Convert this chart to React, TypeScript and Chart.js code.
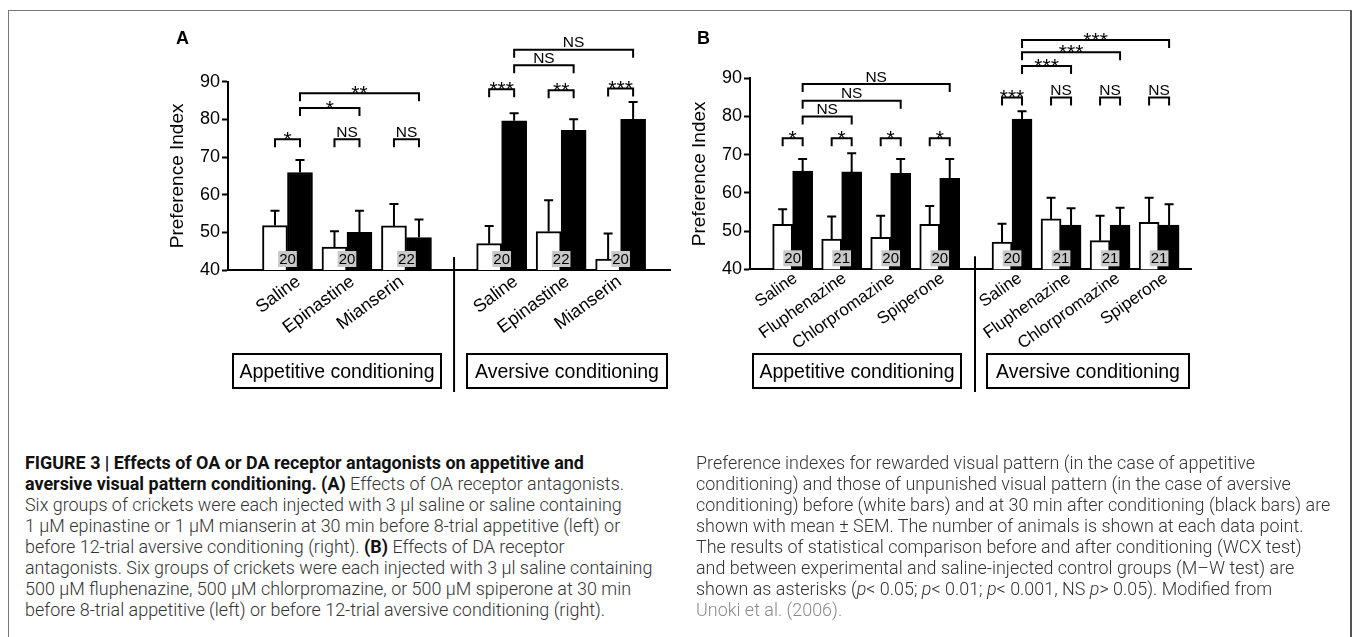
import React, { useEffect, useLayoutEffect, useRef } from 'react';
import { Chart, registerables } from 'chart.js';

Chart.register(...registerables);

const SANS = '"Liberation Sans", Arial, Helvetica, sans-serif';
const CAPTION_FONT = 'Roboto, "Liberation Sans", sans-serif';

// ---------- Panel A : OA receptor antagonists ----------
const aAppetitive = ['Saline', 'Epinastine', 'Mianserin'];
const aAversive = ['Saline', 'Epinastine', 'Mianserin'];
const aBefore = [51.8, 46.1, 51.7, 47.0, 50.2, 42.9];
const aBeforeSem = [3.9, 4.2, 5.8, 4.7, 8.3, 6.8];
const aAfter = [65.9, 50.0, 48.6, 79.6, 77.1, 80.0];
const aAfterSem = [3.3, 5.7, 4.8, 2.0, 2.9, 4.6];
const aAnimals = ['20', '20', '22', '20', '22', '20'];
// [group, series (0 before / 1 after), group, series, level, label]
const aBrackets = [
  [0, 0, 0, 1, 74.7, '*'],
  [1, 0, 1, 1, 74.7, 'NS'],
  [2, 0, 2, 1, 74.7, 'NS'],
  [0, 1, 1, 1, 83.0, '*'],
  [0, 1, 2, 1, 86.9, '**'],
  [3, 0, 3, 1, 88.0, '***'],
  [4, 0, 4, 1, 87.7, '**'],
  [5, 0, 5, 1, 88.2, '***'],
  [3, 1, 4, 1, 94.4, 'NS'],
  [3, 1, 5, 1, 98.5, 'NS'],
];

// ---------- Panel B : DA receptor antagonists ----------
const bAppetitive = ['Saline', 'Fluphenazine', 'Chlorpromazine', 'Spiperone'];
const bAversive = ['Saline', 'Fluphenazine', 'Chlorpromazine', 'Spiperone'];
const bBefore = [51.8, 47.9, 48.4, 51.8, 47.1, 53.2, 47.5, 52.3];
const bBeforeSem = [3.9, 5.9, 5.6, 4.8, 4.8, 5.5, 6.5, 6.4];
const bAfter = [65.7, 65.5, 65.1, 63.8, 79.3, 51.6, 51.6, 51.6];
const bAfterSem = [3.2, 4.9, 3.8, 5.1, 2.1, 4.4, 4.5, 5.4];
const bAnimals = ['20', '21', '20', '20', '20', '21', '21', '21'];
const bBrackets = [
  [0, 0, 0, 1, 74.3, '*'],
  [1, 0, 1, 1, 74.3, '*'],
  [2, 0, 2, 1, 74.3, '*'],
  [3, 0, 3, 1, 74.3, '*'],
  [0, 1, 1, 1, 80.0, 'NS'],
  [0, 1, 2, 1, 84.1, 'NS'],
  [0, 1, 3, 1, 88.5, 'NS'],
  [4, 0, 4, 1, 85.0, '***'],
  [5, 0, 5, 1, 85.0, 'NS'],
  [6, 0, 6, 1, 85.0, 'NS'],
  [7, 0, 7, 1, 85.0, 'NS'],
  [4, 1, 5, 1, 93.2, '***'],
  [4, 1, 6, 1, 96.8, '***'],
  [4, 1, 7, 1, 100.0, '***'],
];

const yTicks = [40, 50, 60, 70, 80, 90];

const panelA = {
  appLabels: aAppetitive, avLabels: aAversive,
  before: aBefore, beforeSem: aBeforeSem, after: aAfter, afterSem: aAfterSem,
  animals: aAnimals, brackets: aBrackets,
  left: 140, top: 20, width: 560, height: 380,
  yAxisWidth: 88, xAxisHeight: 130, padTop: 61.7, padRight: 30,
  xMin: -1.0, xMax: 6.43, gap: 0.6, sep: 2.8, sepBottom: 372,
  barThickness: 25, titlePad: 26,
  labelNudge: [11, 5.6, -4.7, 14.3, 6.3, -1], labelFont: 18, labelRotation: 36.5, labelPadding: 1,
};

const panelB = {
  appLabels: bAppetitive, avLabels: bAversive,
  before: bBefore, beforeSem: bBeforeSem, after: bAfter, afterSem: bAfterSem,
  animals: bAnimals, brackets: bBrackets,
  left: 660, top: 20, width: 560, height: 380,
  yAxisWidth: 90, xAxisHeight: 130.7, padTop: 58.3, padRight: 28.3,
  xMin: -0.87, xMax: 8.14, gap: 0.475, sep: 3.72, sepBottom: 372,
  barThickness: 20, titlePad: 28.6,
  labelNudge: [3, 3, 2, 3, 8, 8, 8, 7], labelFont: 17, labelRotation: 35, labelPadding: -1,
};

function annotations(p: any) {
  return {
    id: 'annotations',
    afterDatasetsDraw(chart: any) {
      const { ctx, chartArea } = chart;
      const ys = chart.scales.y;
      const xs = chart.scales.x;
      const metas = [chart.getDatasetMeta(0).data, chart.getDatasetMeta(1).data];
      ctx.save();
      ctx.strokeStyle = '#000';
      ctx.fillStyle = '#000';
      ctx.lineWidth = 2;
      // error bars (upper SEM)
      const series = [[p.before, p.beforeSem], [p.after, p.afterSem]];
      series.forEach(([means, sems]: any, d: number) => {
        means.forEach((v: number, i: number) => {
          const bar = metas[d][i];
          const top = ys.getPixelForValue(v + sems[i]);
          ctx.beginPath();
          ctx.moveTo(bar.x, bar.y);
          ctx.lineTo(bar.x, top);
          ctx.moveTo(bar.x - 4.5, top);
          ctx.lineTo(bar.x + 4.5, top);
          ctx.stroke();
        });
      });
      // separator between appetitive and aversive
      const sx = xs.getPixelForValue(p.sep);
      ctx.beginPath();
      ctx.moveTo(sx, chartArea.bottom - 13);
      ctx.lineTo(sx, p.sepBottom);
      ctx.stroke();
      // number of animals
      ctx.font = `15px ${SANS}`;
      ctx.textAlign = 'center';
      ctx.textBaseline = 'middle';
      p.animals.forEach((t: string, i: number) => {
        const cx = (metas[0][i].x + metas[1][i].x) / 2;
        const cy = chartArea.bottom - 11;
        const w = ctx.measureText(t).width + 2;
        ctx.fillStyle = '#c8c8c8';
        ctx.fillRect(cx - w / 2, cy - 8, w, 16);
        ctx.fillStyle = '#000';
        ctx.fillText(t, cx, cy + 1);
      });
      // significance brackets
      p.brackets.forEach(([g1, s1, g2, s2, level, label]: any) => {
        const x1 = metas[s1][g1].x;
        const x2 = metas[s2][g2].x;
        const y = ys.getPixelForValue(level);
        ctx.beginPath();
        ctx.moveTo(x1, y + 8);
        ctx.lineTo(x1, y);
        ctx.lineTo(x2, y);
        ctx.lineTo(x2, y + 8);
        ctx.stroke();
        const cx = (x1 + x2) / 2;
        ctx.textBaseline = 'alphabetic';
        if (label.charAt(0) === '*') {
          ctx.font = `21px ${SANS}`;
          ctx.fillText(label, cx, y + 7);
        } else {
          ctx.font = `15.5px ${SANS}`;
          ctx.fillText(label, cx, y - 2.5);
        }
      });
      ctx.restore();
    },
  };
}

function makeConfig(p: any) {
  const nApp = p.appLabels.length;
  const pos = p.before.map((_: number, i: number) => i + (i >= nApp ? p.gap : 0));
  const labels = [...p.appLabels, ...p.avLabels];
  const pxPerUnit = (p.width - p.yAxisWidth - p.padRight) / (p.xMax - p.xMin);
  const tickPos = pos.map((v: number, i: number) => v + p.labelNudge[i] / pxPerUnit);
  return {
    type: 'bar',
    data: {
      datasets: [
        {
          label: 'before',
          data: p.before.map((v: number, i: number) => ({ x: pos[i], y: v })),
          backgroundColor: '#ffffff',
          borderColor: '#000000',
          borderWidth: 2,
          borderSkipped: 'start',
          barThickness: p.barThickness,
        },
        {
          label: 'after',
          data: p.after.map((v: number, i: number) => ({ x: pos[i], y: v })),
          backgroundColor: '#000000',
          borderColor: '#000000',
          borderWidth: 2,
          borderSkipped: 'start',
          barThickness: p.barThickness,
        },
      ],
    },
    options: {
      responsive: false,
      animation: false,
      events: [],
      layout: { padding: { top: p.padTop, right: p.padRight, left: 0, bottom: 0 } },
      plugins: { legend: { display: false }, tooltip: { enabled: false } },
      scales: {
        x: {
          type: 'linear',
          min: p.xMin,
          max: p.xMax,
          offset: false,
          grid: { display: false, drawTicks: false },
          border: { display: true, color: '#000', width: 2 },
          afterBuildTicks: (s: any) => { s.ticks = tickPos.map((v: number) => ({ value: v })); },
          afterFit: (s: any) => { s.height = p.xAxisHeight; },
          ticks: {
            autoSkip: false,
            minRotation: p.labelRotation,
            maxRotation: p.labelRotation,
            padding: p.labelPadding,
            color: '#000',
            font: { family: SANS, size: p.labelFont },
            callback: (_v: any, i: number) => labels[i],
          },
        },
        y: {
          type: 'linear',
          min: 40,
          max: 90,
          afterBuildTicks: (s: any) => { s.ticks = yTicks.map((v) => ({ value: v })); },
          afterFit: (s: any) => { s.width = p.yAxisWidth; },
          grid: { display: true, drawOnChartArea: false, drawTicks: true, tickLength: 6, tickWidth: 2, tickColor: '#000' },
          border: { display: true, color: '#000', width: 2 },
          ticks: { color: '#000', padding: 2, font: { family: SANS, size: 18 } },
          title: {
            display: true,
            text: 'Preference Index',
            color: '#000',
            font: { family: SANS, size: 19 },
            padding: { top: p.titlePad, bottom: 0 },
          },
        },
      },
    },
    plugins: [annotations(p)],
  };
}

function Panel({ p }: any) {
  const ref = useRef<HTMLCanvasElement>(null);
  useEffect(() => {
    const chart = new Chart(ref.current as HTMLCanvasElement, makeConfig(p) as any);
    return () => chart.destroy();
  }, []);
  return (
    <canvas
      ref={ref}
      width={p.width}
      height={p.height}
      style={{ position: 'absolute', left: p.left, top: p.top, width: p.width, height: p.height }}
    />
  );
}

const boxStyle = (left: number, width: number): React.CSSProperties => ({
  position: 'absolute', left, top: 353, width, height: 36, boxSizing: 'border-box',
  border: '2px solid #000', display: 'flex', alignItems: 'center', justifyContent: 'center',
  font: `19.5px ${SANS}`, color: '#000', whiteSpace: 'nowrap',
});

// caption segments: [text, kind]  kind: n normal, b bold, i italic, g grey link
const leftCaption: any[] = [
  [['FIGURE 3 | Effects of OA or DA receptor antagonists on appetitive and', 'b']],
  [['aversive visual pattern conditioning. (A)', 'b'], [' Effects of OA receptor antagonists.', 'n']],
  [['Six groups of crickets were each injected with 3 µl saline or saline containing', 'n']],
  [['1 µM epinastine or 1 µM mianserin at 30 min before 8-trial appetitive (left) or', 'n']],
  [['before 12-trial aversive conditioning (right). ', 'n'], ['(B)', 'b'], [' Effects of DA receptor', 'n']],
  [['antagonists. Six groups of crickets were each injected with 3 µl saline containing', 'n']],
  [['500 µM fluphenazine, 500 µM chlorpromazine, or 500 µM spiperone at 30 min', 'n']],
  [['before 8-trial appetitive (left) or before 12-trial aversive conditioning (right).', 'n']],
];
const rightCaption: any[] = [
  [['Preference indexes for rewarded visual pattern (in the case of appetitive', 'n']],
  [['conditioning) and those of unpunished visual pattern (in the case of aversive', 'n']],
  [['conditioning) before (white bars) and at 30 min after conditioning (black bars) are', 'n']],
  [['shown with mean ± SEM. The number of animals is shown at each data point.', 'n']],
  [['The results of statistical comparison before and after conditioning (WCX test)', 'n']],
  [['and between experimental and saline-injected control groups (M–W test) are', 'n']],
  [['shown as asterisks (', 'n'], ['p', 'i'], ['< 0.05; ', 'n'], ['p', 'i'], ['< 0.01; ', 'n'], ['p', 'i'], ['< 0.001, NS ', 'n'], ['p', 'i'], ['> 0.05). Modified from', 'n']],
  [['Unoki et al. (2006).', 'g']],
];

function segStyle(kind: string): React.CSSProperties {
  if (kind === 'b') return { fontWeight: 700, color: '#111' };
  if (kind === 'i') return { fontStyle: 'italic' };
  if (kind === 'g') return { color: '#8a8a8a' };
  return {};
}

const CAPTION_TOP = 453;
const CAPTION_LINE = 21;

function CaptionColumn({ lines, left, colRef }: any) {
  return (
    <div ref={colRef} style={{ position: 'absolute', left, top: CAPTION_TOP, transformOrigin: '0 0', font: `300 17.5px ${CAPTION_FONT}`, color: '#333' }}>
      {lines.map((segs: any[], i: number) => (
        <div key={i} style={{ position: 'absolute', left: 0, top: i * CAPTION_LINE, height: CAPTION_LINE, lineHeight: `${CAPTION_LINE}px`, whiteSpace: 'nowrap', width: 'max-content' }}>
          {segs.map(([t, k]: any, j: number) => <span key={j} style={segStyle(k)}>{t}</span>)}
        </div>
      ))}
    </div>
  );
}

function Caption() {
  const leftRef = useRef<HTMLDivElement>(null);
  const rightRef = useRef<HTMLDivElement>(null);
  useLayoutEffect(() => {
    const l = leftRef.current as HTMLDivElement;
    const r = rightRef.current as HTMLDivElement;
    let w = 0;
    Array.from(r.children).forEach((c) => { w = Math.max(w, (c as HTMLElement).offsetWidth); });
    if (w > 0) {
      const s = 634 / w;
      l.style.transform = `scaleX(${s})`;
      r.style.transform = `scaleX(${s})`;
    }
  }, []);
  return (
    <>
      <CaptionColumn lines={leftCaption} left={25} colRef={leftRef} />
      <CaptionColumn lines={rightCaption} left={696} colRef={rightRef} />
    </>
  );
}

export default function App() {
  return (
    <div style={{ position: 'absolute', left: 0, top: 0, width: 1356, height: 637, overflow: 'hidden', background: '#fff' }}>
      <div style={{ position: 'absolute', left: 8, top: 10, width: 1344, height: 700, boxSizing: 'border-box', borderTop: '1px solid #777', borderLeft: '1px solid #777', borderRight: '2px solid #555' }} />
      <Panel p={panelA} />
      <Panel p={panelB} />
      <div style={{ position: 'absolute', left: 176, top: 29, font: `bold 18px ${SANS}`, lineHeight: '18px', color: '#000' }}>A</div>
      <div style={{ position: 'absolute', left: 697, top: 29, font: `bold 18px ${SANS}`, lineHeight: '18px', color: '#000' }}>B</div>
      <div style={boxStyle(232, 210)}>Appetitive conditioning</div>
      <div style={boxStyle(466, 202)}>Aversive conditioning</div>
      <div style={boxStyle(752, 210)}>Appetitive conditioning</div>
      <div style={boxStyle(986, 204)}>Aversive conditioning</div>
      <Caption />
    </div>
  );
}
